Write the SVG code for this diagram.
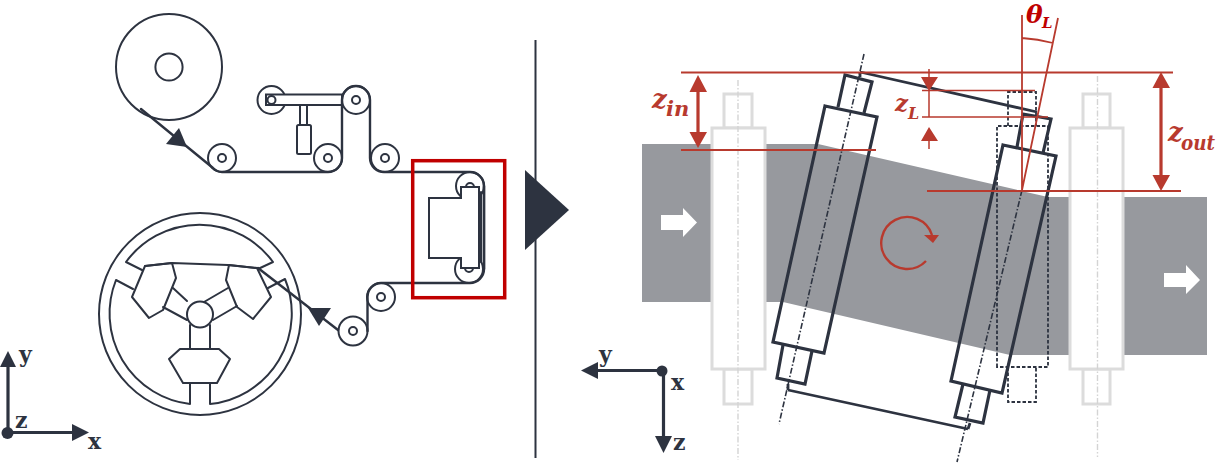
<svg xmlns="http://www.w3.org/2000/svg" width="1218" height="463" viewBox="0 0 1218 463">
<style>
.k{fill:none;stroke:#2d3340;stroke-width:2;stroke-linejoin:round;stroke-linecap:round}
.w{fill:#fff;stroke:#2d3340;stroke-width:2}
.d{fill:#2d3340}
.ax{fill:none;stroke:#2d3340;stroke-width:3.200}
.t{font-family:"DejaVu Serif",serif;font-weight:700;font-size:22px;fill:#2d3340}
.g{fill:#fff;stroke:#dcdcdc;stroke-width:3}
.cl{fill:none;stroke:#d4d4d4;stroke-width:1.400;stroke-dasharray:6 2 1.500 2}
.r{fill:none;stroke:#2d3340;stroke-width:3.200;stroke-linejoin:miter}
.f{fill:none;stroke:#2d3340;stroke-width:2.800}
.a{fill:none;stroke:#2d3340;stroke-width:1.600;stroke-dasharray:6 2 1.500 2}
.da{fill:none;stroke:#2d3340;stroke-width:1.800;stroke-dasharray:3.500 2}
.l{fill:none;stroke:#b83a2e;stroke-width:2}
.lt{fill:none;stroke:#b83a2e;stroke-width:1.500}
.h{fill:#b83a2e}
.m{font-family:"DejaVu Serif",serif;font-style:italic;font-weight:700;fill:#b83a2e}
</style>
<g id="supply-roll"><circle class="k" cx="169" cy="67" r="53"/><circle class="k" cx="169" cy="67" r="13.600"/></g>
<g id="dancer">
<circle class="k" cx="271.500" cy="100" r="14"/><path class="w" d="M266 94.500H342V105H266Z"/><circle class="w" cx="271.500" cy="100" r="4"/>
<rect class="k" x="300" y="105" width="7" height="20"/><rect class="k" x="297" y="125" width="14" height="29" rx="1.500"/>
</g>
<g id="roller-1"><circle class="k" cx="222" cy="158" r="14"/><circle class="k" cx="222" cy="158" r="4"/></g>
<g id="roller-2"><circle class="k" cx="328" cy="158" r="14"/><circle class="k" cx="328" cy="158" r="4"/></g>
<g id="roller-3"><circle class="w" cx="356" cy="100" r="14"/><circle class="k" cx="356" cy="100" r="4"/></g>
<g id="roller-4"><circle class="k" cx="385" cy="158" r="14"/><circle class="k" cx="385" cy="158" r="4"/></g>
<g id="roller-5"><circle class="k" cx="381" cy="297" r="14"/><circle class="k" cx="381" cy="297" r="4"/></g>
<g id="roller-6"><circle class="k" cx="353" cy="331" r="14.500"/><circle class="k" cx="353" cy="331" r="4"/></g>
<g id="connectors">
<path class="k" style="stroke-width:2.400" d="M141 109L213 168Q217 172 222 172H328A14 14 0 0 0 342 158V100A14 14 0 0 1 370 100V158A14 14 0 0 0 385 172H470A14 14 0 0 1 484 186V269A14 14 0 0 1 470 283H381A14 14 0 0 0 367.500 297V331"/>
<path class="k" style="stroke-width:2.400" d="M338 330L258 268"/>
<path class="d" d="M179 128L166 144L187 147Z"/>
<path class="d" d="M308 308H331L319 326Z"/>
</g>
<g id="pressure-head">
<circle class="k" cx="470" cy="186" r="14"/><circle class="k" cx="469" cy="269" r="14"/>
<circle class="k" cx="470" cy="187" r="4"/><circle class="k" cx="469" cy="268" r="4"/>
<path class="w" d="M429 198H461V187H479V268H461V258H429Z"/>
<path class="k" d="M481 192V262"/>
<path class="k" style="stroke-width:2.400" d="M484 186V269"/>
</g>
<g id="detail-frame"><rect x="412.700" y="160.700" width="92" height="137" fill="none" stroke="#c00000" stroke-width="3.500"/></g>
<g id="winding-wheel">
<circle class="k" cx="200" cy="314" r="101"/>
<path class="k" d="M142 270L126 262A91 91 0 0 1 273 262L258 269"/>
<path class="k" d="M133 289L116 280A91 91 0 0 0 190 404V384"/>
<path class="k" d="M268 288L285 279A91 91 0 0 1 210 404V384"/>
<path class="k" d="M145 266L172 263L228 265L257 268"/>
<path class="k" d="M145 266L172 263L176 278L163 310L149 318L132 297Z"/>
<path class="k" d="M229 265L257 268L271 297L253 319L237 307L226 280Z"/>
<path class="k" d="M173 288L187 301M163 307L187 320M228 288L204 302M237 306L213 320"/>
<circle class="k" cx="200" cy="314.500" r="13"/>
<path class="k" d="M190 325V349M210 325V349"/>
<path class="k" d="M180 349H219L230 359L217 383H183L169 359Z"/>
</g>
<g id="axes-left">
<path class="ax" d="M8 433V365M8 432.500H74"/>
<circle class="d" cx="7.500" cy="433" r="6"/>
<path class="d" d="M8 351L0 367H16Z"/><path class="d" d="M89 432.500L72 424V441Z"/>
<text class="t" x="19" y="362">y</text><text class="t" x="15" y="428">z</text><text class="t" x="88" y="449">x</text>
</g>
<g id="divider"><path d="M535.500 40V458" stroke="#2d3340" stroke-width="2" fill="none"/><path class="d" d="M525 170L569 210L525 250Z"/></g>
<g id="web"><path fill="#97999e" d="M642 144H818L1048 197H1207V355H1010L783 302H642Z"/>
<path fill="#fff" d="M661 215H683V208L697 222.500L683 237V230H661Z"/>
<path fill="#fff" d="M1164 273H1186V265L1200 280L1186 294V287H1164Z"/></g>
<g id="ghost-roller-in">
<rect class="g" x="724" y="94" width="28" height="34"/><rect class="g" x="724" y="369" width="28" height="35"/><rect class="g" x="712" y="128" width="53" height="241"/>
<path class="cl" d="M738 80V460"/></g>
<g id="ghost-roller-out">
<rect class="g" x="1083" y="94" width="27" height="34"/><rect class="g" x="1083" y="369" width="27" height="35"/><rect class="g" x="1070" y="128" width="53" height="241"/>
<path class="cl" d="M1097.500 76V457"/></g>
<g id="nominal-roller">
<path class="da" d="M1008 126V92H1036V126"/><path class="da" d="M997 367V126H1048V367Z"/><path class="da" d="M1008 367V402H1036V367"/>
</g>
<g id="frame"><path class="f" d="M860 72L1037 112M788 390L968 429M860 72V77M788 384V390M968 429L970 423"/></g>
<g id="roller-left">
<path class="r" d="M838 107L845 75L872 82L864 113"/><path class="r" d="M825 106L877 117L824 353L773 342Z"/><path class="r" d="M783 345L777 378L805 384L812 351"/>
<path class="a" d="M864 54L779 424"/></g>
<g id="roller-right">
<path class="r" d="M1017 147L1023 114L1051 119L1043 153"/><path class="r" d="M1003 145L1056 156L1002 393L951 381Z"/><path class="r" d="M963 384L955 417L983 423L990 390"/>
<path class="a" d="M1022 190L957 462"/></g>
<g id="dimensions">
<path class="l" d="M681 72.500H1173M681 150H876M927 191H1181"/>
<path d="M698 90V134M1161 86V177" stroke="#b83a2e" stroke-width="3.200" fill="none"/>
<path class="h" d="M698 75L689.500 92H707ZM698 148L689.500 132H707ZM1161 72L1152.500 88H1170ZM1161 191L1152.500 175H1170Z"/>
<path class="lt" d="M922 90.500H1035M922 117H1048M929 69V78M929 90V117M929 140V149"/>
<path class="h" d="M921 77H938L929 91ZM929 127L921 141H938Z"/>
<path class="l" style="stroke-width:1.800" d="M1022 15V190M1058 18L1022 190M1022 38A155 155 0 0 1 1053 43"/>
<path class="l" style="stroke-width:2.400" d="M932 235A26 26 0 1 0 926 261"/>
<path class="h" d="M924 235H939L933 243Z"/>
<text class="m" x="652" y="108" font-size="26">z</text><text class="m" x="666" y="116" font-size="21">in</text>
<text class="m" x="895" y="111" font-size="23">z</text><text class="m" x="908" y="119" font-size="16">L</text>
<text class="m" x="1026" y="23" font-size="25" style="fill:#c00000">θ</text><text class="m" x="1042" y="28" font-size="15" style="fill:#c00000">L</text>
<text class="m" x="1168" y="141" font-size="26">z</text><text class="m" x="1181" y="150" font-size="20" textLength="34" lengthAdjust="spacingAndGlyphs">out</text>
</g>
<g id="axes-right">
<path class="ax" d="M662 370.500H596M663.500 371V438"/>
<circle class="d" cx="662" cy="371" r="5.500"/>
<path class="d" d="M581 370.500L598 362V379Z"/><path class="d" d="M663.500 453L655 436H672Z"/>
<text class="t" x="599" y="362">y</text><text class="t" x="671" y="390">x</text><text class="t" x="673" y="450">z</text>
</g>
</svg>
